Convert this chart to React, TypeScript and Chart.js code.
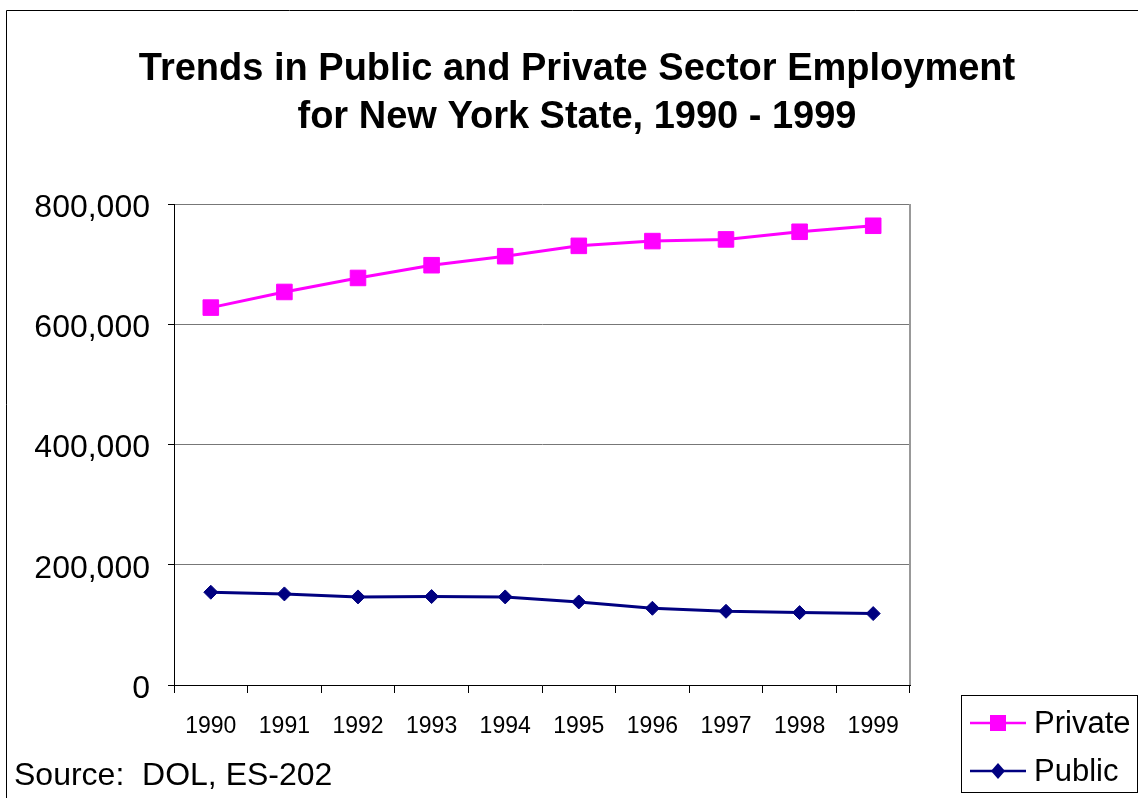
import React, { useEffect, useRef } from "react";
import { Chart, registerables } from "chart.js";

Chart.register(...registerables);

const years = ["1990", "1991", "1992", "1993", "1994", "1995", "1996", "1997", "1998", "1999"];
const privateSector = [627700, 653700, 677000, 698200, 713200, 730400, 738300, 741100, 753800, 763800];
const publicSector = [154300, 151500, 146500, 147100, 146500, 138100, 127600, 122600, 120400, 118800];
const titleLines = ["Trends in Public and Private Sector Employment", "for New York State, 1990 - 1999"];
const sourceText = "Source:  DOL, ES-202";
const yTicks = [0, 200000, 400000, 600000, 800000];

const FONT = "'Liberation Sans', Arial, Helvetica, sans-serif";
const PINK = "#FF00FF";
const NAVY = "#000080";

const decorPlugin = {
  id: "decor",
  afterDraw(chart: any) {
    const ctx = chart.ctx as CanvasRenderingContext2D;
    const area = chart.chartArea;
    ctx.save();
    // outer frame
    ctx.strokeStyle = "#000";
    ctx.lineWidth = 1;
    ctx.beginPath();
    ctx.moveTo(6.5, 800);
    ctx.lineTo(6.5, 10.5);
    ctx.lineTo(1140, 10.5);
    ctx.stroke();
    // plot right border
    ctx.strokeStyle = "#999";
    ctx.lineWidth = 2;
    ctx.beginPath();
    ctx.moveTo(area.right, area.top);
    ctx.lineTo(area.right, area.bottom);
    ctx.stroke();
    // title
    ctx.fillStyle = "#000";
    ctx.font = `bold 38px ${FONT}`;
    ctx.textAlign = "center";
    ctx.textBaseline = "middle";
    ctx.fillText(titleLines[0], 577, 70);
    ctx.fillText(titleLines[1], 577, 118);
    // source
    ctx.font = `32px ${FONT}`;
    ctx.textAlign = "left";
    ctx.fillText(sourceText, 14, 776);
    // legend
    ctx.strokeStyle = "#000";
    ctx.lineWidth = 1;
    ctx.strokeRect(961.5, 695.5, 176, 97);
    const entries = chart.data.datasets.map((ds: any, i: number) => ({ ds, y: i === 0 ? 723 : 771 }));
    entries.forEach(({ ds, y }: any) => {
      ctx.strokeStyle = ds.borderColor;
      ctx.lineWidth = 2.5;
      ctx.beginPath();
      ctx.moveTo(970, y);
      ctx.lineTo(1026, y);
      ctx.stroke();
      ctx.fillStyle = ds.pointBackgroundColor;
      ctx.beginPath();
      if (ds.pointStyle === "rect") {
        ctx.rect(990, y - 8, 16, 16);
      } else {
        ctx.moveTo(998, y - 8);
        ctx.lineTo(1005, y);
        ctx.lineTo(998, y + 8);
        ctx.lineTo(991, y);
        ctx.closePath();
      }
      ctx.fill();
      ctx.fillStyle = "#000";
      ctx.font = `31px ${FONT}`;
      ctx.textAlign = "left";
      ctx.textBaseline = "middle";
      ctx.fillText(ds.label, 1034, y + 1);
    });
    ctx.restore();
  },
};

export default function App() {
  const ref = useRef<HTMLCanvasElement | null>(null);
  useEffect(() => {
    if (!ref.current) return;
    const chart = new Chart(ref.current, {
      type: "line",
      data: {
        labels: years,
        datasets: [
          {
            label: "Private",
            data: privateSector,
            borderColor: PINK,
            backgroundColor: PINK,
            pointBackgroundColor: PINK,
            pointBorderColor: PINK,
            pointStyle: "rect",
            pointRadius: 11,
            pointBorderWidth: 1,
            borderWidth: 3,
            tension: 0,
          } as any,
          {
            label: "Public",
            data: publicSector,
            borderColor: NAVY,
            backgroundColor: NAVY,
            pointBackgroundColor: NAVY,
            pointBorderColor: NAVY,
            pointStyle: "rectRot",
            pointRadius: 7,
            pointBorderWidth: 1,
            borderWidth: 3,
            tension: 0,
          } as any,
        ],
      },
      options: {
        animation: false,
        responsive: false,
        layout: { padding: { left: 0, top: 204, right: 228, bottom: 0 } },
        plugins: {
          legend: { display: false },
          title: { display: false },
          tooltip: { enabled: false },
        },
        scales: {
          x: {
            offset: true,
            grid: {
              offset: true,
              drawOnChartArea: false,
              drawTicks: true,
              tickLength: 8,
              tickColor: "#000",
            },
            border: { color: "#000", width: 1 },
            ticks: {
              color: "#000",
              font: { family: FONT, size: 23 },
              padding: 20,
              maxRotation: 0,
              autoSkip: false,
            },
            afterFit(scale: any) {
              scale.height = 113;
            },
          },
          y: {
            min: 0,
            max: 800000,
            afterBuildTicks(scale: any) {
              scale.ticks = yTicks.map((v) => ({ value: v }));
            },
            grid: {
              color: "#777",
              lineWidth: 1,
              tickLength: 6,
              tickColor: "#000",
            },
            border: { color: "#000", width: 1 },
            ticks: {
              color: "#000",
              font: { family: FONT, size: 32 },
              padding: 18,
              labelOffset: 4,
              callback: (v: any) => Number(v).toLocaleString("en-US"),
            },
            afterFit(scale: any) {
              scale.width = 174;
            },
          },
        },
      },
      plugins: [decorPlugin],
    });
    return () => chart.destroy();
  }, []);
  return (
    <div style={{ position: "absolute", left: 0, top: 0, width: 1138, height: 798, background: "#fff" }}>
      <canvas ref={ref} width={1138} height={798} style={{ width: 1138, height: 798, display: "block" }} />
    </div>
  );
}
